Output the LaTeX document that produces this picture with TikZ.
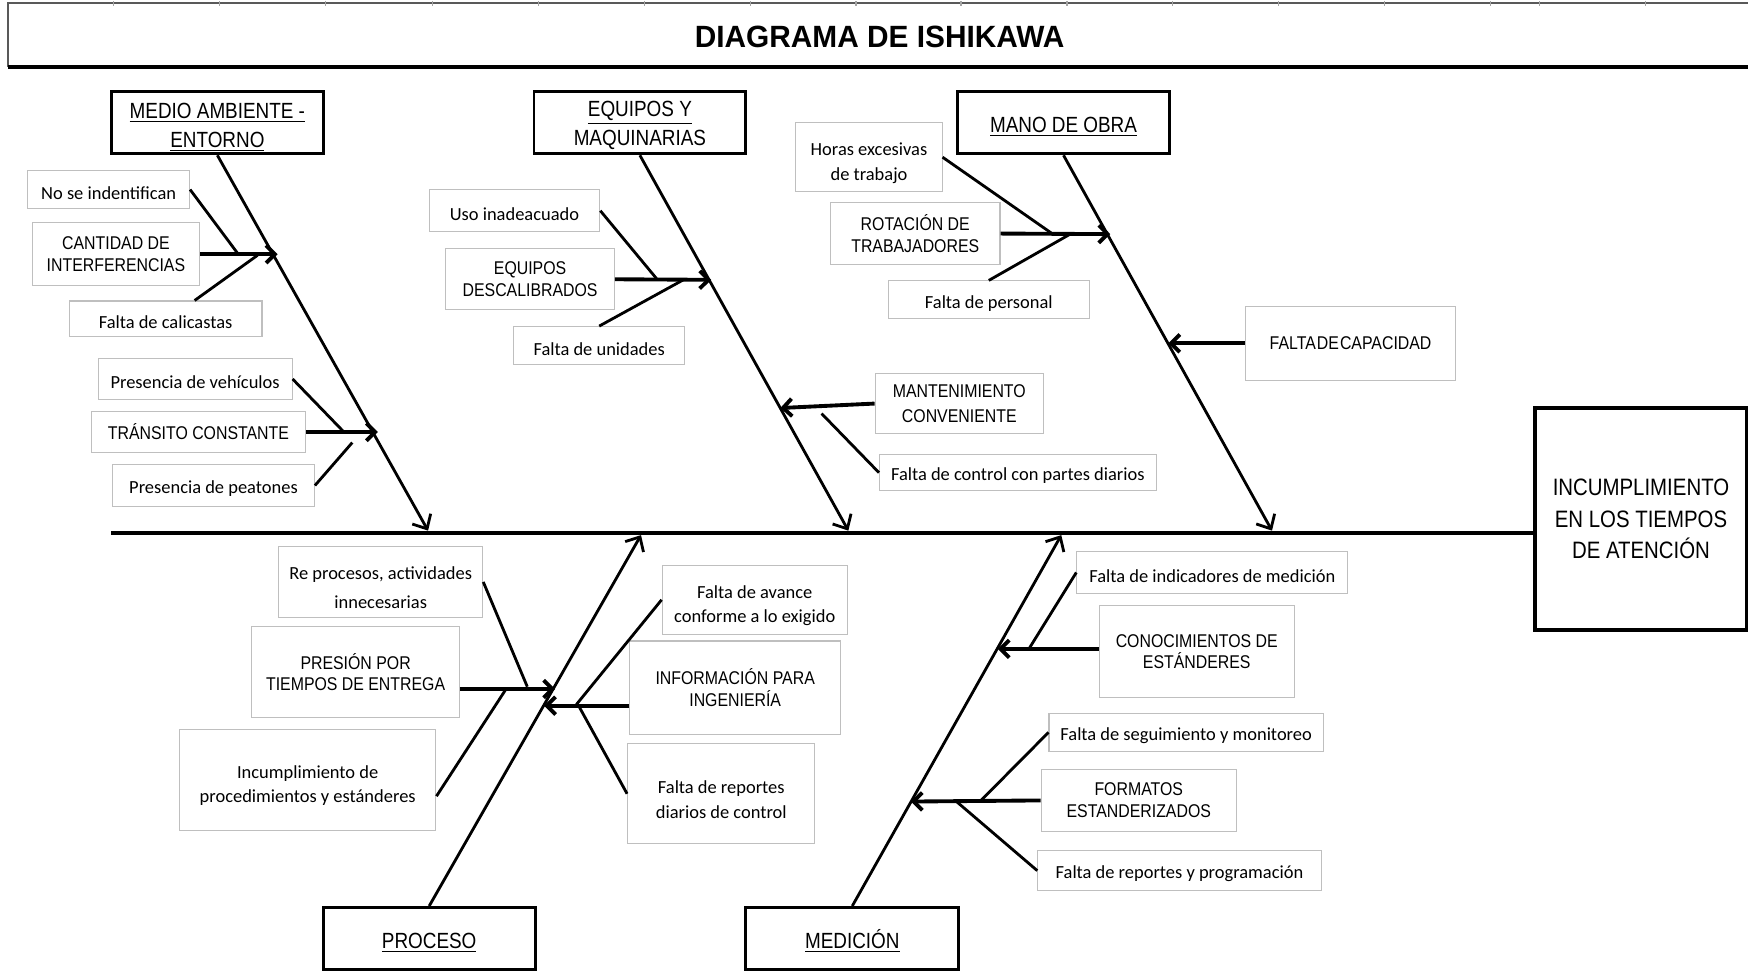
\documentclass[tikz,border=0pt]{standalone}
\usepackage{fontspec}
\setmainfont{Carlito}
\newfontfamily\capfont[FakeStretch=0.86]{Liberation Sans}
\newfontfamily\titlefont[FakeStretch=0.97]{Liberation Sans}
\usetikzlibrary{arrows.meta,calc}
\newcommand\spx{0.6345pt}
\newcommand\hup{\rule{0pt}{14pt}}

\begin{document}
\begin{tikzpicture}
[ x=0.0223cm, y=-0.0223cm,
  dims/.style 2 args={minimum width=#1*\spx, minimum height=#2*\spx},
  catbox/.style={draw, line width=1.6pt, inner sep=0pt, align=center,
    font=\capfont\fontsize{12.5}{16.5}\selectfont,
    execute at begin node=\rule{0pt}{13pt}},
  headbox/.style={draw, line width=1.9pt, inner sep=0pt, align=center,
    font=\capfont\fontsize{13.5}{17.8}\selectfont},
  capbox/.style={draw=black!25, line width=0.6pt, inner sep=0pt, align=center,
    font=\capfont\fontsize{10.5}{12.3}\selectfont},
  notebox/.style={draw=black!25, line width=0.6pt, inner sep=0pt, align=center,
    font=\fontsize{10.5}{13.8}\selectfont,
    execute at begin node=\rule{0pt}{11pt}},
  bone/.style={line width=1.6pt, -{Straight Barb[length=6.5pt,width=12pt]}},
  feed/.style={line width=2.2pt, -{Straight Barb[length=5pt,width=10pt]}},
  twig/.style={line width=1.6pt}
]
\useasboundingbox (0,0) rectangle (1568,872);
%\draw[help lines,step=50] (0,0) grid (1568,872);

% titulo
\draw[black!65, line width=1pt] (7,60) -- (7,3) -- (1568,3);
\draw[line width=1.9pt] (7,60) -- (1568,60);
\foreach \t in {102,197,292,388,483,578,673,768,862,957,1052,1147,1242,1337,1381,1476}
  \draw[black!35, line width=0.8pt] (\t,1) -- (\t,5);
\node[font=\titlefont\bfseries\fontsize{17.5}{20}\selectfont] (titulo) at (789,33) {DIAGRAMA DE ISHIKAWA};

% efecto y espina
\node[headbox, dims={190}{199}] (efecto) at (1472,465.5) {INCUMPLIMIENTO\\EN LOS TIEMPOS\\DE ATENCIÓN};
\coordinate (cola) at (100,478);
\draw[line width=2pt] (cola) -- (cola -| efecto.west);

% categorias
\node[catbox, dims={190}{56}] (medio) at (195,110) {\hup\underline{MEDIO AMBIENTE -}\\\underline{ENTORNO}};
\node[catbox, dims={190}{56}] (equipos) at (574,110) {\hup\underline{EQUIPOS Y}\\\underline{MAQUINARIAS}};
\node[catbox, dims={190}{56}] (mano) at (954,110) {\underline{MANO DE OBRA}};
\node[catbox, dims={190}{56}] (proceso) at (385,842) {\underline{PROCESO}};
\node[catbox, dims={191}{56}] (medicion) at (764.5,842) {\underline{MEDICIÓN}};

\coordinate (pMA) at (384,476);
\coordinate (pEQ) at (761,476);
\coordinate (pMO) at (1141,476);
\coordinate (pPR) at (575,480);
\coordinate (pME) at (952,480);
\draw[bone] (medio.south) -- (pMA);
\draw[bone] (equipos.south) -- (pEQ);
\draw[bone] (mano.south) -- (pMO);
\draw[bone] (proceso.north) -- (pPR);
\draw[bone] (medicion.north) -- (pME);

% medio ambiente
\node[notebox, dims={145}{34}] (noSe) at (97.5,170) {No se indentifican};
\node[capbox, dims={150}{56}] (cantidad) at (104,228) {CANTIDAD DE\\INTERFERENCIAS};
\node[notebox, dims={173}{32}] (calicastas) at (148.5,286) {Falta de calicastas};
\node[notebox, dims={174}{36}] (vehiculos) at (175,340) {Presencia de vehículos};
\node[capbox, dims={192}{37}] (transito) at (178,387.5) {TRÁNSITO CONSTANTE};
\node[notebox, dims={181}{37}] (peatones) at (191.5,435.5) {Presencia de peatones};

% equipos
\node[notebox, dims={153}{38}] (uso) at (461.5,189) {Uso inadeacuado};
\node[capbox, dims={151}{55}] (descal) at (475.5,250.5) {EQUIPOS\\DESCALIBRADOS};
\node[notebox, dims={153}{34}] (unidades) at (537.5,310) {Falta de unidades};
\node[capbox, dims={151}{54}] (mant) at (860.5,362) {MANTENIMIENTO\\[2pt]CONVENIENTE};
\node[notebox, dims={248}{32}] (control) at (913,424) {Falta de control con partes diarios};

% mano de obra
\node[notebox, dims={131}{62}] (horas) at (779.5,141) {\hup Horas excesivas\\de trabajo};
\node[capbox, dims={152}{55}] (rotacion) at (821,209.5) {ROTACIÓN DE\\TRABAJADORES};
\node[notebox, dims={180}{34}] (personal) at (887,269) {Falta de personal};
\node[capbox, dims={189}{66}] (capacidad) at (1211.5,308) {{\spaceskip=0.6pt\relax FALTA DE CAPACIDAD}};

% proceso
\node[notebox, dims={183}{64}] (reproc) at (341.5,522) {\hup Re procesos, actividades\\[3pt]innecesarias};
\node[capbox, dims={186}{82}] (presion) at (319,603) {PRESIÓN POR\\TIEMPOS DE ENTREGA};
\node[notebox, dims={230}{91}] (incump) at (276,699.5) {\hup Incumplimiento de\\procedimientos y estánderes};
\node[notebox, dims={166}{62}] (avance) at (677,538) {\hup Falta de avance\\conforme a lo exigido};
\node[capbox, dims={189}{84}] (info) at (659.5,617) {INFORMACIÓN PARA\\INGENIERÍA};
\node[notebox, dims={168}{90}] (reportes) at (647,712) {\hup Falta de reportes\\diarios de control};

% medicion
\node[notebox, dims={243}{37}] (indic) at (1087.5,513.5) {Falta de indicadores de medición};
\node[capbox, dims={175}{83}] (conoc) at (1073.5,584.5) {CONOCIMIENTOS DE\\ESTÁNDERES};
\node[notebox, dims={246}{34}] (seguim) at (1064,657) {Falta de seguimiento y monitoreo};
\node[capbox, dims={175}{56}] (formatos) at (1021.5,718) {FORMATOS\\ESTANDERIZADOS};
\node[notebox, dims={254}{36}] (progr) at (1058,781) {Falta de reportes y programación};

% puntos sobre las espinas
\coordinate (m1) at (249,228);   \coordinate (m2) at (339,387.5);
\coordinate (m1a) at (213,227);  \coordinate (m1b) at (231,229);
\coordinate (m2a) at (308,387);  \coordinate (m2b) at (316,397);
\coordinate (e1) at (638,251);   \coordinate (e2) at (700,366);
\coordinate (e1a) at (589,250);  \coordinate (e1b) at (613,251);
\coordinate (e2a) at (737,371);
\coordinate (o1) at (996,210);   \coordinate (o2) at (1048,308);
\coordinate (o1a) at (943,209);  \coordinate (o1b) at (960,210);
\coordinate (r1) at (498,618);   \coordinate (r2) at (488,633);
\coordinate (r1a) at (473,616);  \coordinate (r1b) at (454,618);
\coordinate (r2a) at (517,632);  \coordinate (r2b) at (519,633);
\coordinate (d1) at (895,582);   \coordinate (d2) at (817,719);
\coordinate (d1a) at (923,582);  \coordinate (d2a) at (879,719);
\coordinate (d2b) at (858,719);

\draw[feed] (cantidad.east) -- (m1);
\draw[feed] (transito.east) -- (m2);
\draw[feed] (descal.east) -- (e1);
\draw[feed] (mant.west) -- (e2);
\draw[feed] (rotacion.east) -- (o1);
\draw[feed] (capacidad.west) -- (o2);
\draw[feed] (presion.east |- r1) -- (r1);
\draw[feed] (info.west |- r2) -- (r2);
\draw[feed] (conoc.west |- d1) -- (d1);
\draw[feed] (formatos.west) -- (d2);

\draw[twig] (noSe.east) -- (m1a);
\draw[twig] ($(calicastas.north west)!0.65!(calicastas.north east)$) -- (m1b);
\draw[twig] (vehiculos.east) -- (m2a);
\draw[twig] (peatones.east) -- (m2b);
\draw[twig] (uso.east) -- (e1a);
\draw[twig] (unidades.north) -- (e1b);
\draw[twig] (control.west) -- (e2a);
\draw[twig] (horas.east) -- (o1a);
\draw[twig] (personal.north) -- (o1b);
\draw[twig] (reproc.east) -- (r1a);
\draw[twig] ($(incump.north east)!0.66!(incump.south east)$) -- (r1b);
\draw[twig] (avance.west) -- (r2a);
\draw[twig] (reportes.west) -- (r2b);
\draw[twig] (indic.west) -- (d1a);
\draw[twig] (seguim.west) -- (d2a);
\draw[twig] (progr.west) -- (d2b);
\end{tikzpicture}
\end{document}
